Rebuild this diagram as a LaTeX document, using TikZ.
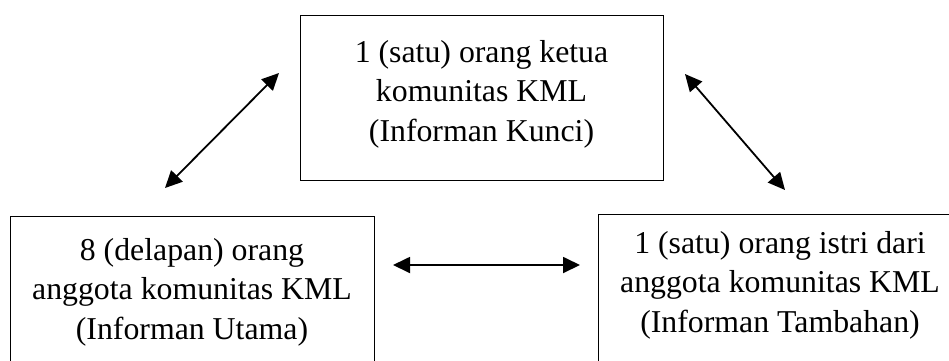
\documentclass[tikz,border=0pt]{standalone}
\usepackage{fontspec}
\setmainfont{Liberation Serif}
\usetikzlibrary{arrows.meta}
\begin{document}
\begin{tikzpicture}[x=1pt,y=-1pt,
  box/.style={draw, line width=0.9pt, rectangle, inner sep=0pt},
  label text/.style={align=center, inner sep=0pt,
    font=\fontsize{31.8}{39.5}\selectfont},
  link/.style={{Triangle[length=17pt,width=16pt]}-{Triangle[length=17pt,width=16pt]},
    line width=1.8pt}]
\useasboundingbox (0,0) rectangle (949,360);
\clip (0,0) rectangle (949,360);

% frames (the lower two run past the bottom and right edges)
\node[box, minimum width=363pt, minimum height=165pt] (ketua) at (481.5,97.5) {};
\node[box, minimum width=364pt, minimum height=184pt] (utama) at (192,308) {};
\node[box, minimum width=364pt, minimum height=186pt] (tambahan) at (780,307) {};

% texts
\node[label text] (ketuaText) at (481.5,94) {1 (satu) orang ketua\\komunitas KML\\(Informan Kunci)};
\node[label text] (utamaText) at (192,292) {8 (delapan) orang\\anggota komunitas KML\\(Informan Utama)};
\node[label text] (tambahanText) at (780,285) {1 (satu) orang istri dari\\anggota komunitas KML\\(Informan Tambahan)};

% arrow end points
\coordinate (lA) at (165,188);
\coordinate (lB) at (279,73);
\coordinate (rA) at (685,74);
\coordinate (rB) at (785,190);
\coordinate (hA) at (393,265);
\coordinate (hB) at (580,265);

\draw[link] (lA) -- (lB);
\draw[link] (rA) -- (rB);
\draw[link] (hA) -- (hB);
\end{tikzpicture}
\end{document}
